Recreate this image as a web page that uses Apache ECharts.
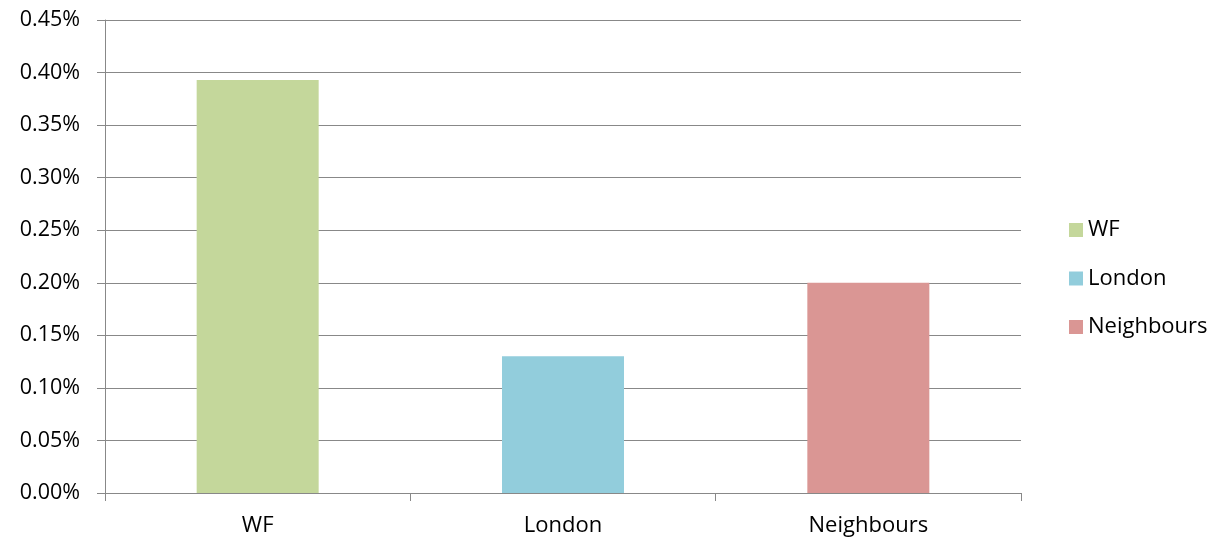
<!DOCTYPE html>
<html><head><meta charset="utf-8">
<script src="https://cdn.jsdelivr.net/npm/echarts@6/dist/echarts.min.js"></script>
<style>html,body{margin:0;padding:0;background:#fff}#c{width:1214px;height:541px}</style>
</head><body><div id="c"></div>
<script>
const categories = ['WF', 'London', 'Neighbours'];
const seriesNames = ['WF', 'London', 'Neighbours'];
const values = [0.393, 0.130, 0.200];
const colors = ['#C4D79B', '#92CDDC', '#DA9694'];
const yTicks = { min: 0, max: 0.45, interval: 0.05 };

const FONT = 'Open Sans';
const chart = echarts.init(document.getElementById('c'));
const series = seriesNames.map((n, i) => ({
  name: n, type: 'bar', stack: 'all', barWidth: 122,
  itemStyle: { color: colors[i] },
  data: categories.map((c, j) => j === i ? values[i] : '-')
}));
chart.setOption({
  animation: false,
  grid: { left: 105, right: 193, top: 20, bottom: 48, containLabel: false },
  legend: {
    orient: 'vertical', left: 1064, top: 213, itemWidth: 14, itemHeight: 14, itemGap: 24.5,
    icon: 'rect',
    textStyle: { fontFamily: FONT, fontSize: 22, color: '#000', lineHeight: 24, padding: [0,0,0,0] },
    data: seriesNames
  },
  xAxis: {
    type: 'category', data: categories,
    axisLine: { lineStyle: { color: '#888', width: 1 } },
    axisTick: { show: true, length: 8, lineStyle: { color: '#888' } },
    axisLabel: { fontFamily: FONT, fontSize: 22, color: '#000', margin: 22 }
  },
  yAxis: {
    type: 'value', min: yTicks.min, max: yTicks.max, interval: yTicks.interval,
    axisLine: { show: true, lineStyle: { color: '#888', width: 1 } },
    axisTick: { show: true, length: 8, lineStyle: { color: '#888' } },
    splitLine: { lineStyle: { color: '#888', width: 1 } },
    axisLabel: { fontFamily: FONT, fontSize: 21.5, color: '#000', margin: 25,
      formatter: v => v.toFixed(2) + '%' }
  },
  series
});
</script></body></html>
